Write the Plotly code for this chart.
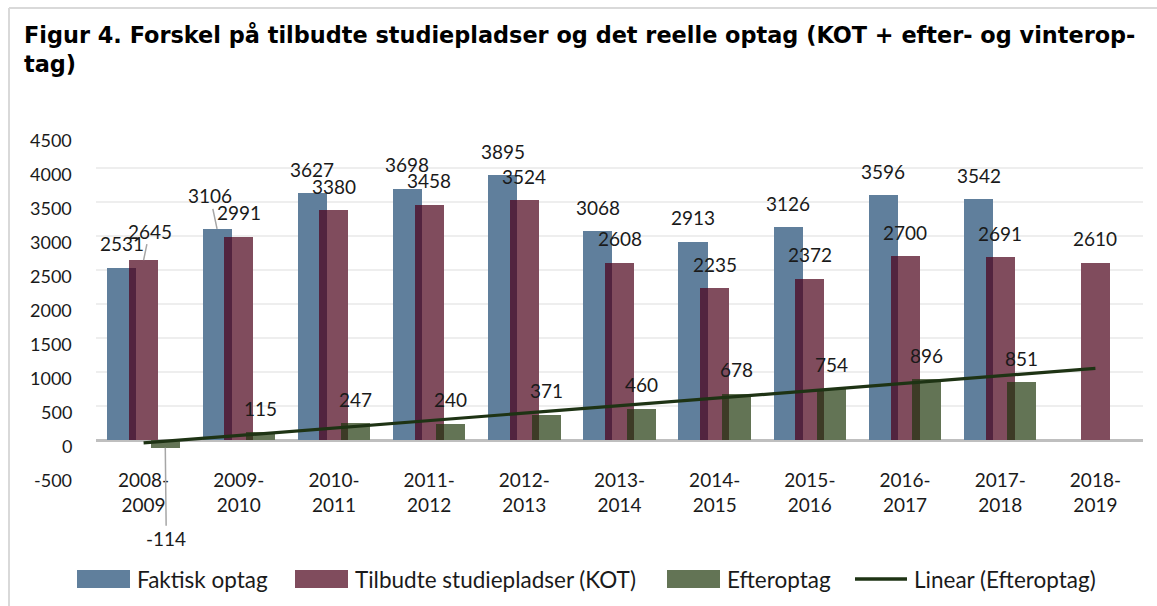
import numpy as np
import plotly.graph_objects as go

# ---------------- data ----------------
categories = ["2008-2009", "2009-2010", "2010-2011", "2011-2012", "2012-2013",
              "2013-2014", "2014-2015", "2015-2016", "2016-2017", "2017-2018", "2018-2019"]
tick_labels = [c.replace("-", "-<br>", 1) for c in categories]
faktisk = [2531, 3106, 3627, 3698, 3895, 3068, 2913, 3126, 3596, 3542, None]
kot = [2645, 2991, 3380, 3458, 3524, 2608, 2235, 2372, 2700, 2691, 2610]
efter = [-114, 115, 247, 240, 371, 460, 678, 754, 896, 851, None]
y_ticks = [-500, 0, 500, 1000, 1500, 2000, 2500, 3000, 3500, 4000, 4500]

series_names = ["Faktisk optag", "Tilbudte studiepladser (KOT)", "Efteroptag", "Linear (Efteroptag)"]

# ---------------- styles ----------------
C_BLUE = "#607f9c"
C_RED = "#804c5d"
C_GREEN = "#637455"
C_BLUE_RED = "#52243f"
C_RED_GREEN = "#3d3b26"
C_TREND = "#1e3314"
FONT = "Lato"
TXT = "#1a1a1a"

W = 0.305   # bar width (category units)
D = 0.228   # spacing between series within a group

W_PX, H_PX = 1157, 606
ML, MR, MT, MB = 96, 14, 134, 132
plot_w = W_PX - ML - MR
plot_h = H_PX - MT - MB


def px_x(px):
    return (px - ML) / plot_w


def px_y(py):
    return (MT + plot_h - py) / plot_h


idx = list(range(len(categories)))

# trend line (linear fit over available Efteroptag values)
fit_x = [i for i in idx if efter[i] is not None]
fit_y = [efter[i] for i in fit_x]
slope, intercept = np.polyfit(fit_x, fit_y, 1)
trend = [slope * i + intercept for i in idx]

# overlap shading (shadow effect where bars overlap)
ov_br = [min(a, b) if (a is not None and b is not None and min(a, b) > 0) else None
         for a, b in zip(faktisk, kot)]
ov_rg = [min(a, b) if (a is not None and b is not None and min(a, b) > 0) else None
         for a, b in zip(kot, efter)]

fig = go.Figure()
fig.add_trace(go.Bar(x=categories, y=faktisk, name=series_names[0], marker_color=C_BLUE,
                     width=W, offset=-D - W / 2, marker_line_width=0))
fig.add_trace(go.Bar(x=categories, y=kot, name=series_names[1], marker_color=C_RED,
                     width=W, offset=-W / 2, marker_line_width=0))
fig.add_trace(go.Bar(x=categories, y=efter, name=series_names[2], marker_color=C_GREEN,
                     width=W, offset=D - W / 2, marker_line_width=0))
fig.add_trace(go.Bar(x=categories, y=ov_br, showlegend=False, marker_color=C_BLUE_RED,
                     width=W - D, offset=-W / 2, marker_line_width=0, hoverinfo="skip"))
fig.add_trace(go.Bar(x=categories, y=ov_rg, showlegend=False, marker_color=C_RED_GREEN,
                     width=W - D, offset=D - W / 2, marker_line_width=0, hoverinfo="skip"))
fig.add_trace(go.Scatter(x=categories, y=trend, mode="lines", name=series_names[3],
                         line=dict(color=C_TREND, width=3.2)))

# ---------------- data labels ----------------
annotations = []
LABEL_UP = 24
# leader-line labels: (series, index) -> (ax, ay) pixel offset of the text from the bar end
leaders = {(0, 1): (-7, -33), (1, 0): (6, -29), (2, 0): (1, 91)}
series_vals = [faktisk, kot, efter]
series_off = [-D, 0.0, D]
for s, vals in enumerate(series_vals):
    for i, v in enumerate(vals):
        if v is None:
            continue
        xpos = i + series_off[s]
        if (s, i) in leaders:
            ax, ay = leaders[(s, i)]
            annotations.append(dict(x=xpos, y=v, xref="x", yref="y", text=str(v),
                                    showarrow=True, arrowhead=0, arrowwidth=1.5,
                                    arrowcolor="#a6a6a6", ax=ax, ay=ay, standoff=0,
                                    font=dict(family=FONT, size=19, color=TXT)))
        else:
            annotations.append(dict(x=xpos, y=v, xref="x", yref="y", text=str(v),
                                    showarrow=False, yshift=LABEL_UP if v >= 0 else -LABEL_UP,
                                    xanchor="center", yanchor="middle",
                                    font=dict(family=FONT, size=19, color=TXT)))

# y tick labels (as text, right-aligned left of the plot)
for t in y_ticks:
    annotations.append(dict(x=0, y=t, xref="paper", yref="y", text=str(t), showarrow=False,
                            xanchor="right", yanchor="middle", xshift=-22, yshift=-6,
                            font=dict(family=FONT, size=18, color=TXT)))

# title
annotations.append(dict(
    x=px_x(22), y=px_y(20), xref="paper", yref="paper",
    xanchor="left", yanchor="top", align="left", showarrow=False,
    text="<b>Figur 4. Forskel på tilbudte studiepladser og det reelle optag (KOT + efter- og vinterop-<br>tag)</b>",
    font=dict(family="DejaVu Sans", size=22.4, color="#000000")))

# chart frame (left and top edges)
shapes = [
    dict(type="line", xref="paper", yref="paper", x0=px_x(9), x1=px_x(9),
         y0=px_y(H_PX), y1=px_y(8), line=dict(color="#d9d9d9", width=2)),
    dict(type="line", xref="paper", yref="paper", x0=px_x(9), x1=px_x(W_PX),
         y0=px_y(8), y1=px_y(8), line=dict(color="#d9d9d9", width=2)),
]

# custom legend (swatch left/right edge px) — layout only
LEG_Y = 579
legend_items = [("bar", C_BLUE, 77, 130), ("bar", C_RED, 295, 348),
                ("bar", C_GREEN, 667, 720), ("line", C_TREND, 855, 907)]
for (kind, col, x0, x1), name in zip(legend_items, series_names):
    if kind == "bar":
        shapes.append(dict(type="rect", xref="paper", yref="paper",
                           x0=px_x(x0), x1=px_x(x1), y0=px_y(LEG_Y + 9), y1=px_y(LEG_Y - 9),
                           fillcolor=col, line=dict(width=0)))
    else:
        shapes.append(dict(type="line", xref="paper", yref="paper",
                           x0=px_x(x0), x1=px_x(x1), y0=px_y(LEG_Y), y1=px_y(LEG_Y),
                           line=dict(color=col, width=3.5)))
    annotations.append(dict(x=px_x(x1 + 5), y=px_y(LEG_Y), xref="paper", yref="paper",
                            xanchor="left", yanchor="middle", showarrow=False, text=name,
                            font=dict(family=FONT, size=22.5, color=TXT)))

fig.update_layout(
    width=W_PX, height=H_PX,
    margin=dict(l=ML, r=MR, t=MT, b=MB, pad=0, autoexpand=False),
    paper_bgcolor="white", plot_bgcolor="white",
    barmode="overlay", bargap=0,
    showlegend=False,
    annotations=annotations,
    shapes=shapes,
    font=dict(family=FONT, size=18, color=TXT),
)
fig.update_xaxes(type="category", categoryorder="array", categoryarray=categories,
                 tickmode="array", tickvals=categories, ticktext=tick_labels,
                 tickfont=dict(family=FONT, size=19, color=TXT), ticklabelstandoff=-7,
                 showgrid=False, showline=False, ticks="", range=[-0.5, len(categories) - 0.5])
fig.update_yaxes(range=[y_ticks[0], y_ticks[-1]], tickvals=y_ticks, showticklabels=False,
                 showgrid=True, gridcolor="#eeeeee", gridwidth=2,
                 zeroline=True, zerolinecolor="#bfbfbf", zerolinewidth=3,
                 showline=False, ticks="")

fig.write_html("out.html", config={"displayModeBar": False},
               post_script="document.body.style.margin='0px';document.body.style.overflow='hidden';")
